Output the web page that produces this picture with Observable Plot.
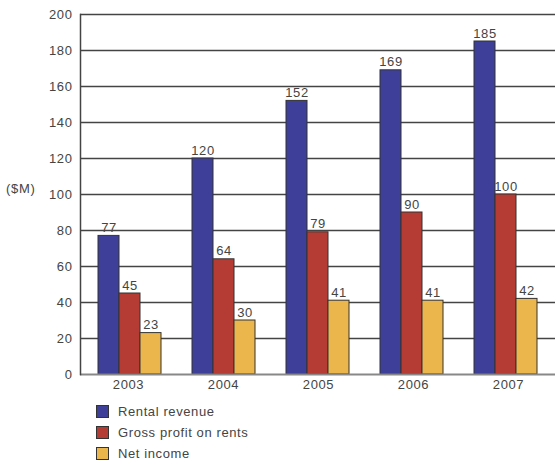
<!DOCTYPE html>
<html>
<head>
<meta charset="utf-8">
<script src="https://cdn.jsdelivr.net/npm/d3@7"></script>
<script src="https://cdn.jsdelivr.net/npm/@observablehq/plot@0.6"></script>
<style>
  html, body { margin: 0; padding: 0; background: #fff; }
  body { width: 555px; height: 464px; overflow: hidden; font-family: "Liberation Sans", Arial, sans-serif; position: relative; }
  #chart { position: relative; width: 555px; height: 394px; }
  #chart svg { position: absolute; left: 0; top: 0; }
  #ylab { position: absolute; left: 6px; top: 181px; font-size: 13px; letter-spacing: 0.7px; color: #444; }
  .legend { position: absolute; left: 96px; top: 401px; font-size: 13px; letter-spacing: 0.6px; color: #444; }
  .legend div { display: flex; align-items: center; height: 21px; }
  .legend span.sw { width: 11px; height: 11px; border: 1px solid #333; margin-right: 9px; display: inline-block; }
</style>
</head>
<body>
<div id="chart"></div>
<div id="ylab">($M)</div>
<div class="legend" id="legend"></div>
<script>
const years = ["2003", "2004", "2005", "2006", "2007"];
const seriesNames = ["Rental revenue", "Gross profit on rents", "Net income"];
const rentalRevenue = [77, 120, 152, 169, 185];
const grossProfit = [45, 64, 79, 90, 100];
const netIncome = [23, 30, 41, 41, 42];
const colors = ["#3e3f98", "#b43c35", "#ebb64c"];
const yTicks = [0, 20, 40, 60, 80, 100, 120, 140, 160, 180, 200];

const seriesValues = [rentalRevenue, grossProfit, netIncome];
const data = [];
years.forEach((yr, i) => {
  seriesNames.forEach((s, j) => data.push({year: yr, series: s, value: seriesValues[j][i]}));
});

const common = {
  width: 555,
  height: 394,
  marginLeft: 80,
  marginRight: 0,
  marginTop: 14,
  marginBottom: 20,
  y: {domain: [0, 200], label: null}
};
const font = {fontFamily: "Liberation Sans, Arial, sans-serif", fontSize: "13px", letterSpacing: "0.6px", color: "#444"};

// Background: grid, axes
const back = Plot.plot({
  ...common,
  style: {...font, background: "#fff"},
  x: {domain: years, paddingInner: 0.33, paddingOuter: 0.17, label: null},
  marks: [
    Plot.ruleY(yTicks.filter(d => d > 0), {stroke: "#444", strokeWidth: 1.5}),
    Plot.axisY({ticks: yTicks, tickSize: 0, tickPadding: 8, label: null, fontSize: 13}),
    Plot.axisX({tickSize: 0, tickPadding: 5, label: null, fontSize: 13})
  ]
});

// Foreground: grouped bars via facets
const front = Plot.plot({
  ...common,
  style: {...font, background: "transparent"},
  fx: {domain: years, paddingInner: 0.33, paddingOuter: 0.17, label: null, axis: null},
  x: {domain: seriesNames, padding: 0, axis: null},
  y: {domain: [0, 200], label: null, axis: null},
  color: {domain: seriesNames, range: colors},
  marks: [
    Plot.barY(data, {fx: "year", x: "series", y: "value", fill: "series", stroke: "#333", strokeWidth: 1}),
    Plot.text(data, {fx: "year", x: "series", y: "value", text: d => String(d.value), dy: -4, lineAnchor: "bottom", fill: "#444", fontSize: 13})
  ]
});

// Overlay: baseline and left axis line
const over = Plot.plot({
  ...common,
  style: {...font, background: "transparent"},
  x: {domain: years, paddingInner: 0.33, paddingOuter: 0.17, axis: null},
  y: {domain: [0, 200], axis: null},
  marks: [
    Plot.ruleY([0], {stroke: "#888", strokeWidth: 2}),
    Plot.frame({anchor: "left", stroke: "#444", strokeWidth: 1.5})
  ]
});

const c = document.getElementById("chart");
c.appendChild(back);
c.appendChild(front);
c.appendChild(over);

const leg = document.getElementById("legend");
seriesNames.forEach((s, j) => {
  const row = document.createElement("div");
  const sw = document.createElement("span");
  sw.className = "sw";
  sw.style.background = colors[j];
  row.appendChild(sw);
  row.appendChild(document.createTextNode(s));
  leg.appendChild(row);
});
</script>
</body>
</html>
